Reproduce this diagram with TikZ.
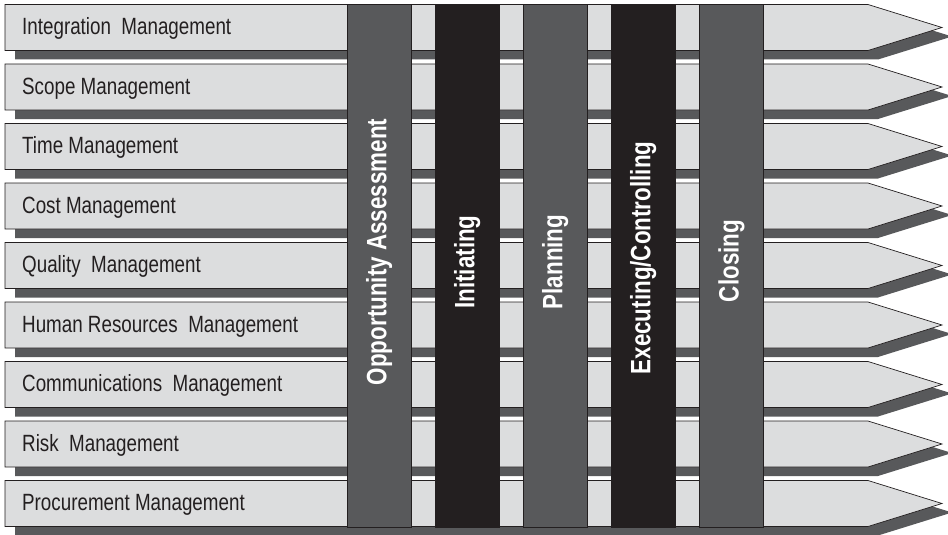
\documentclass[tikz,border=0pt]{standalone}
\usepackage{fontspec}
\setmainfont{Liberation Sans}[FakeStretch=0.8]
\usetikzlibrary{positioning}
\definecolor{bandgray}{HTML}{DCDDDE}
\definecolor{shadowgray}{HTML}{58595B}
\definecolor{phaseblack}{HTML}{231F20}

\begin{document}
\begin{tikzpicture}[x=1pt,y=-1pt]

\tikzset{band/.style = {fill=bandgray, draw=phaseblack, line width=0.7pt, line join=miter}}
\tikzset{bandshadow/.style = {fill=shadowgray}}
\tikzset{area/.style = {anchor=base west, inner sep=0pt, text=phaseblack, font=\fontsize{23.5}{24}\selectfont}}
\tikzset{phasebar/.style = {draw=phaseblack, line width=0.7pt}}
\tikzset{phaselabel/.style = {rotate=90, inner sep=0pt, text=white, font=\bfseries\fontsize{28}{28}\selectfont}}
\useasboundingbox (0,0) rectangle (948,535);
% knowledge areas
\foreach \areaname [count=\i from 0] in {Integration~~Management, Scope Management, Time Management, Cost Management, Quality~~Management, Human Resources~~Management, Communications~~Management, Risk~~Management, Procurement Management} {
  \pgfmathsetmacro{\rowtop}{4.5+59.5*\i}
  \fill[bandshadow] (15,\rowtop+9) -- (878,\rowtop+9) -- (952,\rowtop+32) -- (878,\rowtop+55) -- (15,\rowtop+55) -- cycle;
  \draw[band] (5,\rowtop) -- (868,\rowtop) -- (942,\rowtop+23) -- (868,\rowtop+46) -- (5,\rowtop+46) -- cycle;
  \node[area] (area\i) at (22,\rowtop+30.2) {\areaname};
}
% phases
\foreach \cx/\cy/\shade/\phasename [count=\j] in {379.25/252/shadowgray/Opportunity Assessment, 467.25/262/phaseblack/Initiating, 555.25/262/shadowgray/Planning, 643.25/258/phaseblack/Executing\slash Controlling, 731.5/261/shadowgray/Closing} {
  \draw[phasebar, fill=\shade] (\cx-31.75,4.5) rectangle (\cx+31.75,527);
  \node[phaselabel] (phase\j) at (\cx,\cy) {\phasename};
}
\end{tikzpicture}
\end{document}
